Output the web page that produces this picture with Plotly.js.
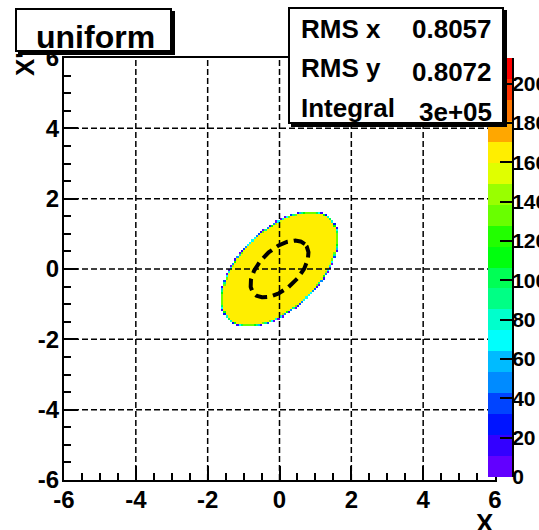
<!DOCTYPE html>
<html><head><meta charset="utf-8">
<script src="https://cdn.plot.ly/plotly-3.0.1.min.js"></script>
<style>html,body{margin:0;padding:0;background:#fff}#chart{width:539px;height:530px}</style>
</head><body><div id="chart"></div>
<script>
// ---------------- data ----------------
const axisRange = [-6, 6];
const binsPerAxis = [200];
const ellipseCenter = [0.0, 0.0];        // filled (uniform) region
const ellipseSemiAxes = [2.0, 1.1];
const ellipseAngleDeg = [45];
const fullBinContent = [165];            // typical content of a fully covered bin
const rmsEllipseSemiAxes = [1.0, 0.55];  // dashed RMS ellipse
const zRange = [0, 213];
const tickValues = [-6, -4, -2, 0, 2, 4, 6];
const tickLabels = ['-6', '-4', '-2', '0', '2', '4', '6'];
const gridValues = [-4, -2, 0, 2, 4];
const colorbarTicks = [0, 20, 40, 60, 80, 100, 120, 140, 160, 180, 200];
const colorbarLabels = ['0', '20', '40', '60', '80', '100', '120', '140', '160', '180', '200'];
const paletteColors = ['#6200ff', '#3300ff', '#0014ff', '#0044ff', '#008bff', '#00bbff', '#00fffc', '#00ffcc', '#00ff85', '#00ff55',
                       '#00ff0e', '#22ff00', '#69ff00', '#99ff00', '#e0ff00', '#ffee00', '#ffa700', '#ff7700', '#ff3000', '#ff0000'];
const statsLabels = ['RMS x', 'RMS y', 'Integral'];
const statsValues = ['0.8057', '0.8072', '3e+05'];
const titleText = ['uniform'];
const axisTitles = ['X', "X'"];

// ---------------- build histogram cells ----------------
const nb = binsPerAxis[0];
const bw = (axisRange[1] - axisRange[0]) / nb;
const th = ellipseAngleDeg[0] * Math.PI / 180;
const ct = Math.cos(th), st = Math.sin(th);
const A = ellipseSemiAxes[0], Bb = ellipseSemiAxes[1];
function inside(x, y) {
  const dx = x - ellipseCenter[0], dy = y - ellipseCenter[1];
  const u = dx * ct + dy * st, v = -dx * st + dy * ct;
  return (u / A) * (u / A) + (v / Bb) * (v / Bb) <= 1;
}
const centers = [];
for (let i = 0; i < nb; i++) centers.push(axisRange[0] + (i + 0.5) * bw);
const SS = 6;
const z = [];
for (let j = 0; j < nb; j++) {
  const row = [];
  for (let i = 0; i < nb; i++) {
    const x0 = axisRange[0] + i * bw, y0 = axisRange[0] + j * bw;
    let c = 0;
    if (Math.abs(centers[i]) < 2.6 && Math.abs(centers[j]) < 2.6) {
      for (let a = 0; a < SS; a++) for (let b = 0; b < SS; b++) {
        if (inside(x0 + (a + 0.5) * bw / SS, y0 + (b + 0.5) * bw / SS)) c++;
      }
    }
    row.push(c > 0 ? fullBinContent[0] * c / (SS * SS) : null);
  }
  z.push(row);
}
const nLev = paletteColors.length;
const colorscale = [];
paletteColors.forEach((c, k) => {
  colorscale.push([k / nLev, c]);
  colorscale.push([(k + 1) / nLev, c]);
});
// palette (colour scale) cells: one per contour level
const levStep = (zRange[1] - zRange[0]) / nLev;
const levCenters = paletteColors.map((c, k) => zRange[0] + (k + 0.5) * levStep);

// dashed RMS ellipse
const ex = [], ey = [];
for (let k = 0; k <= 240; k++) {
  const t = 2 * Math.PI * k / 240;
  const u = rmsEllipseSemiAxes[0] * Math.cos(t), v = rmsEllipseSemiAxes[1] * Math.sin(t);
  ex.push(ellipseCenter[0] + u * ct - v * st);
  ey.push(ellipseCenter[1] + u * st + v * ct);
}
// grid lines
const gx = [], gy = [], hx = [], hy = [];
gridValues.forEach(v => {
  gx.push(v, v, null); gy.push(axisRange[0], axisRange[1], null);
  hx.push(axisRange[0], axisRange[1], null); hy.push(v, v, null);
});

// ---------------- layout helpers (pixel -> paper) ----------------
const W = 539, H = 530;
const L = 64, R = 495, T = 58, Bm = 480;
const CB_LEFT = 488, CB_RIGHT = 512, CB_BOT = 477;
const PW = CB_RIGHT - L;
const px = p => (p - L) / PW;
const py = p => (Bm - p) / (Bm - T);
const FONT = 'Liberation Sans, Arial, Helvetica, sans-serif';
const bold = (s) => ({family: FONT, size: s, color: 'black', weight: 'bold'});
const gridLine = {color: 'black', width: 1.5, dash: '6px,3px'};

const traces = [
  {type: 'heatmap', x: centers, y: centers, z: z, zmin: zRange[0], zmax: zRange[1],
   colorscale: colorscale, hoverinfo: 'skip', showscale: false, xaxis: 'x', yaxis: 'y'},
  {type: 'scatter', mode: 'lines', x: ex, y: ey, hoverinfo: 'skip', showlegend: false,
   line: {color: 'black', width: 4, dash: '12px,6px'}},
  {type: 'scatter', mode: 'lines', x: gx, y: gy, hoverinfo: 'skip', showlegend: false, line: gridLine, connectgaps: false},
  {type: 'scatter', mode: 'lines', x: hx, y: hy, hoverinfo: 'skip', showlegend: false, line: gridLine, connectgaps: false},
  {type: 'heatmap', x: [0.5], y: levCenters, z: levCenters.map(v => [v]), zmin: zRange[0], zmax: zRange[1],
   colorscale: colorscale, hoverinfo: 'skip', showscale: false, xaxis: 'x2', yaxis: 'y2'}
];

function box(x, y, w, h, fill, bwid) {
  return {xref: 'paper', yref: 'paper', x: px(x), y: py(y), xanchor: 'left', yanchor: 'top',
          text: ' ', showarrow: false, width: w - 2 * bwid, height: h - 2 * bwid, borderpad: 0,
          bgcolor: fill, bordercolor: 'black', borderwidth: bwid};
}
function txt(text, x, y, xa, size) {
  return {xref: 'paper', yref: 'paper', x: px(x), y: py(y), xanchor: xa, yanchor: 'middle',
          text: text, showarrow: false, font: bold(size), borderpad: 0};
}
const annotations = [
  box(18, 11, 157, 44, 'black', 0),
  box(15, 8, 157, 44, 'white', 2),
  txt(titleText[0], 95, 37, 'center', 32),
  box(291, 10, 216, 117, 'black', 0),
  box(288, 7, 216, 117, 'white', 2),
  txt(statsLabels[0], 300, 29, 'left', 26),
  txt(statsValues[0], 493, 29, 'right', 26),
  txt(statsLabels[1], 300, 68, 'left', 26),
  txt(statsValues[1], 493, 72, 'right', 26),
  txt(statsLabels[2], 300, 108, 'left', 26),
  txt(statsValues[2], 493, 112, 'right', 26),
  txt(axisTitles[0], 495, 523, 'right', 26),
  Object.assign(txt(axisTitles[1], 25, 64, 'center', 26), {textangle: -90})
];

const axisCommon = {
  range: axisRange, tickmode: 'array', tickvals: tickValues, ticktext: tickLabels,
  ticks: 'inside', ticklen: 14, tickwidth: 2, tickcolor: 'black',
  showgrid: false, zeroline: false, showline: true, linewidth: 2, linecolor: 'black', mirror: true,
  layer: 'above traces', tickfont: bold(24), fixedrange: true,
  minor: {tickmode: 'linear', tick0: -6, dtick: 0.5, ticks: 'inside', ticklen: 7, tickwidth: 2, tickcolor: 'black', showgrid: false}
};

const layout = {
  width: W, height: H,
  margin: {l: L, r: W - CB_RIGHT, t: T, b: H - Bm, pad: 0, autoexpand: false},
  paper_bgcolor: 'white', plot_bgcolor: 'rgba(0,0,0,0)', showlegend: false,
  font: bold(20),
  xaxis: Object.assign({}, axisCommon, {domain: [0, (R - L) / PW], anchor: 'y', ticklabelstandoff: -3}),
  yaxis: Object.assign({}, axisCommon, {domain: [0, 1], anchor: 'x', ticklabelstandoff: -2}),
  xaxis2: {domain: [(CB_LEFT - L) / PW, 1], anchor: 'y2', range: [0, 1], visible: false, fixedrange: true},
  yaxis2: {domain: [py(CB_BOT), 1], anchor: 'x2', side: 'right', range: zRange,
           tickmode: 'array', tickvals: colorbarTicks, ticktext: colorbarLabels,
           ticks: 'inside', ticklen: 12, tickwidth: 2, tickcolor: 'black',
           showline: true, linewidth: 2, linecolor: 'black', mirror: false, ticklabelstandoff: -6,
           showgrid: false, zeroline: false, layer: 'above traces', tickfont: bold(21), fixedrange: true},
  annotations: annotations
};

Plotly.newPlot('chart', traces, layout, {staticPlot: true, displayModeBar: false});
</script>
</body></html>
